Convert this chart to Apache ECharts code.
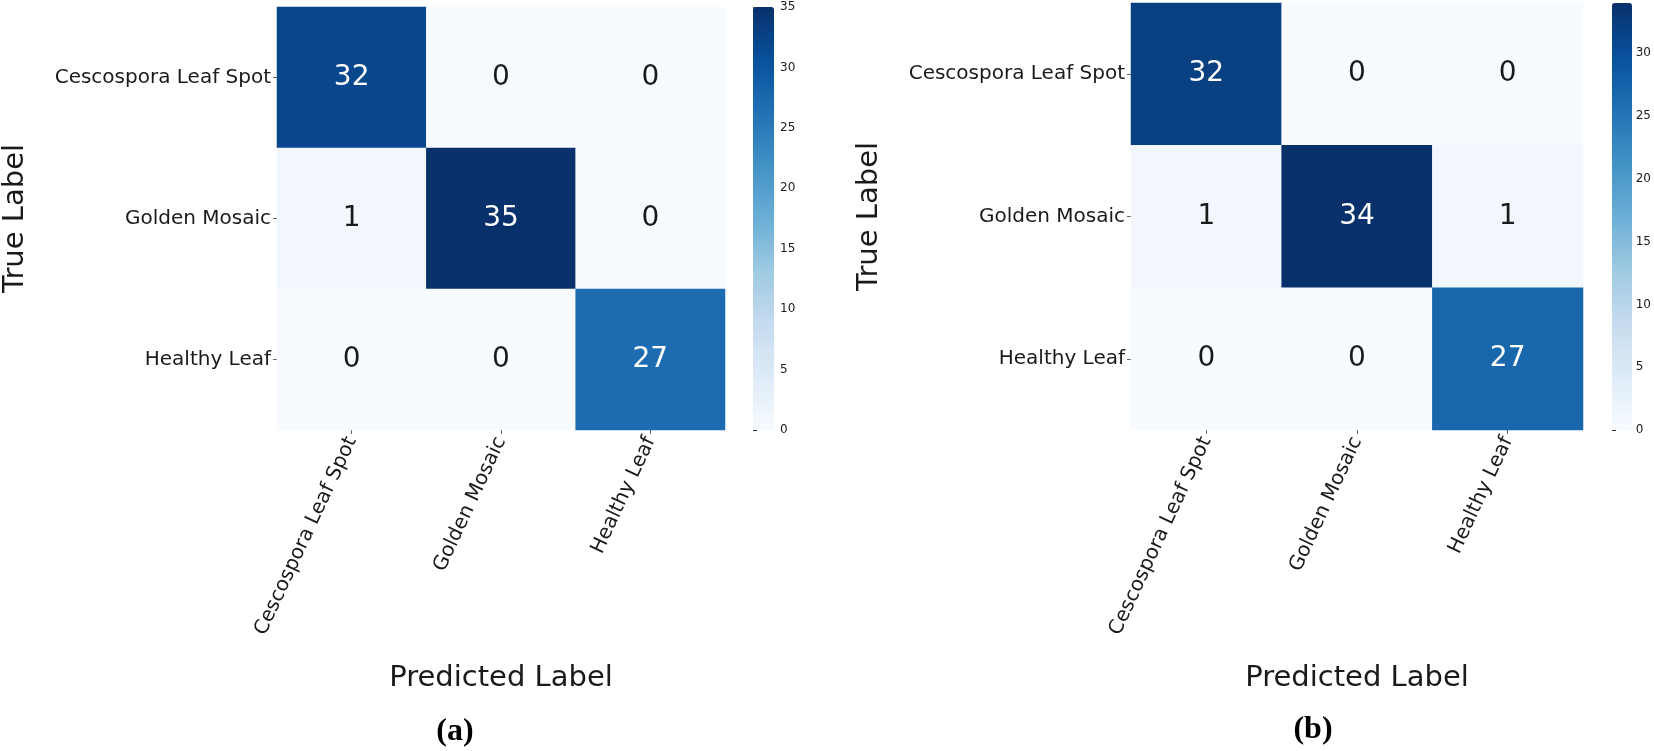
<!DOCTYPE html>
<html>
<head>
<meta charset="utf-8">
<script src="https://cdn.jsdelivr.net/npm/echarts@6/dist/echarts.min.js"></script>
<style>html,body{margin:0;padding:0;background:#fff;}#c{width:1654px;height:751px;}</style>
</head>
<body>
<div id="c"></div>
<script>
const categories = ['Cescospora Leaf Spot', 'Golden Mosaic', 'Healthy Leaf'];
// rows = true label, cols = predicted label
const matrixA = [[32, 0, 0], [1, 35, 0], [0, 0, 27]];
const matrixB = [[32, 0, 0], [1, 34, 1], [0, 0, 27]];
const colorbarMaxA = 35;
const colorbarMaxB = 34;
const colorbarTicks = [0, 5, 10, 15, 20, 25, 30, 35];
const panelLabels = ['(a)', '(b)'];

const blues = ['#f7fbff', '#deebf7', '#c6dbef', '#9ecae1', '#6baed6', '#4292c6', '#2171b5', '#08519c', '#08306b'];
const FONT = 'DejaVu Sans';

function cells(m, max) {
  const out = [];
  m.forEach((row, r) => row.forEach((v, c) => {
    out.push({ value: [c, r, v], label: { color: v > max * 0.5 ? '#ffffff' : '#1a1a1a' } });
  }));
  return out;
}

const layouts = [
  { left: 273, top: 7, width: 452, height: 423, cbLeft: 753, cbWidth: 21, tagX: 455, tagY: 732 },
  { left: 1131, top: 3, width: 452, height: 427, cbLeft: 1612, cbWidth: 20, tagX: 1313, tagY: 730 }
];
const mats = [matrixA, matrixB];
const maxes = [colorbarMaxA, colorbarMaxB];

const grid = [], xAxis = [], yAxis = [], series = [], visualMap = [], graphic = [];
layouts.forEach((L, i) => {
  grid.push({ left: L.left, top: L.top, width: L.width, height: L.height, containLabel: false });
  grid.push({ left: L.cbLeft, top: L.top, width: L.cbWidth, height: L.height, containLabel: false });
  xAxis.push({
    type: 'category', gridIndex: 2 * i, data: categories,
    axisLine: { show: false },
    axisTick: { show: true, alignWithLabel: true, length: 4, lineStyle: { color: '#666' } },
    axisLabel: { rotate: 65, fontSize: 20, fontFamily: FONT, color: '#1a1a1a', margin: 8, interval: 0 },
    splitLine: { show: false },
    name: 'Predicted Label', nameLocation: 'middle', nameGap: 234,
    nameTextStyle: { fontSize: 29, fontFamily: FONT, color: '#1a1a1a' }
  });
  yAxis.push({
    type: 'category', gridIndex: 2 * i, data: categories, inverse: true,
    axisLine: { show: false },
    axisTick: { show: true, alignWithLabel: true, length: 4, lineStyle: { color: '#666' } },
    axisLabel: { fontSize: 20, fontFamily: FONT, color: '#1a1a1a', margin: 6, interval: 0 },
    splitLine: { show: false },
    name: 'True Label', nameLocation: 'middle', nameGap: 247, nameRotate: 90,
    nameTextStyle: { fontSize: 29, fontFamily: FONT, color: '#1a1a1a' }
  });
  xAxis.push({ type: 'value', gridIndex: 2 * i + 1, show: false, min: 0, max: 1 });
  yAxis.push({
    type: 'value', gridIndex: 2 * i + 1, position: 'right', min: 0, max: maxes[i], interval: 5,
    axisLine: { show: false },
    axisTick: { show: true, length: 4, lineStyle: { color: '#333' } },
    axisLabel: { fontSize: 12, fontFamily: FONT, color: '#1a1a1a', margin: 6,
      showMaxLabel: colorbarTicks.indexOf(maxes[i]) >= 0 },
    splitLine: { show: false }
  });
  series.push({
    type: 'heatmap', xAxisIndex: 2 * i, yAxisIndex: 2 * i,
    data: cells(mats[i], maxes[i]),
    itemStyle: { borderWidth: 0 },
    label: { show: true, fontSize: 28, fontFamily: FONT, formatter: p => p.value[2] },
    emphasis: { disabled: true }
  });
  visualMap.push({
    type: 'continuous', seriesIndex: i, min: 0, max: maxes[i],
    orient: 'vertical', left: L.cbLeft, top: L.top, padding: 0,
    itemWidth: L.cbWidth, itemHeight: L.height, calculable: false, hoverLink: false,
    text: null, showLabel: false, inRange: { color: blues }
  });
  graphic.push({
    type: 'text', x: L.tagX, y: L.tagY,
    style: { text: panelLabels[i], font: 'bold 32px "Liberation Serif"', fill: '#000', align: 'center', verticalAlign: 'middle' }
  });
});

const chart = echarts.init(document.getElementById('c'));
chart.setOption({
  backgroundColor: '#ffffff',
  animation: false,
  grid, xAxis, yAxis, series, visualMap, graphic
});
</script>
</body>
</html>
